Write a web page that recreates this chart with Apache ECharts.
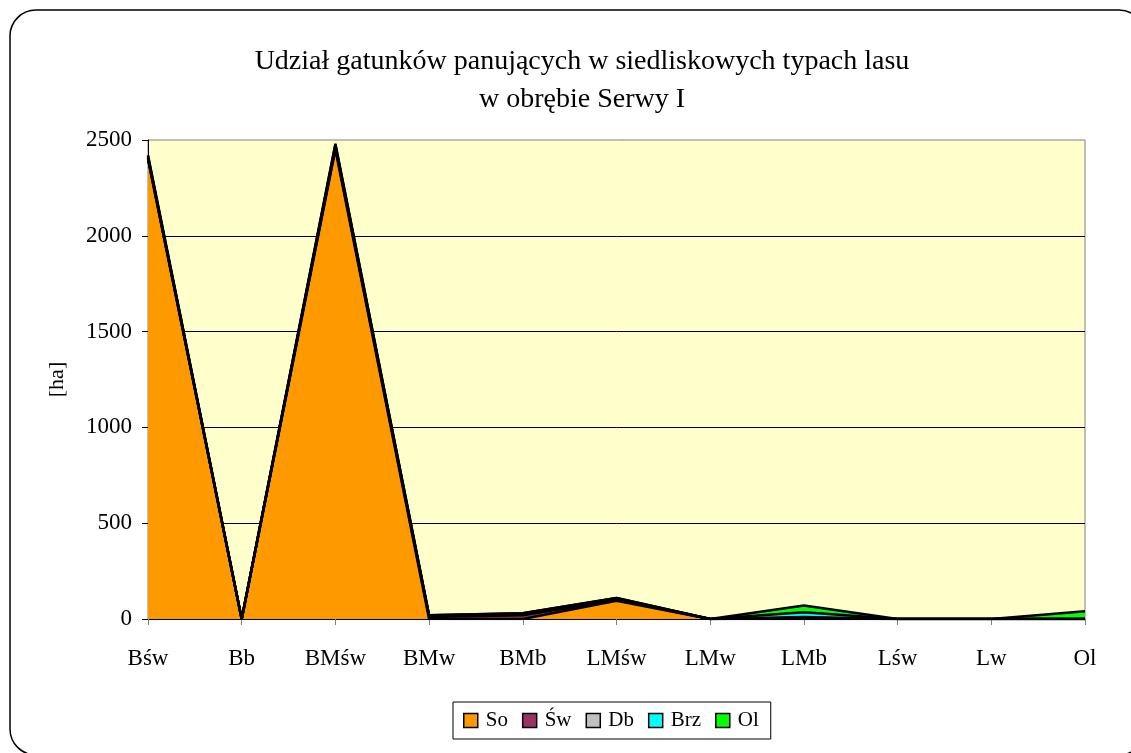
<!DOCTYPE html>
<html>
<head>
<meta charset="utf-8">
<script src="https://cdn.jsdelivr.net/npm/echarts@6/dist/echarts.min.js"></script>
<style>
html, body { margin: 0; padding: 0; background: #fff; }
#chart { width: 1131px; height: 753px; }
</style>
</head>
<body>
<div id="chart"></div>
<script>
// siedliskowe typy lasu
const categories = ["Bśw", "Bb", "BMśw", "BMw", "BMb", "LMśw", "LMw", "LMb", "Lśw", "Lw", "Ol"];
// gatunki panujące [ha]
const seriesNames = ["So", "Św", "Db", "Brz", "Ol"];
const soData  = [2400, 0, 2450, 0, 0, 95, 0, 0, 0, 0, 0];
const swData  = [5, 0, 10, 10, 20, 5, 0, 5, 0, 0, 0];
const dbData  = [0, 0, 5, 5, 5, 5, 0, 5, 0, 0, 0];
const brzData = [10, 0, 10, 5, 5, 5, 0, 25, 0, 0, 0];
const olData  = [5, 0, 5, 0, 0, 0, 0, 35, 0, 0, 40];
const colors = ["#FF9900", "#993366", "#C0C0C0", "#00FFFF", "#00FF00"];

const allData = [soData, swData, dbData, brzData, olData];
const font = "'Liberation Serif', 'Times New Roman', serif";

let myChart = echarts.init(document.getElementById("chart"));
let option = {
  animation: false,
  textStyle: { fontFamily: font },
  title: {
    text: "Udział gatunków panujących w siedliskowych typach lasu\nw obrębie Serwy I",
    left: 577,
    textAlign: "center",
    top: 38,
    textStyle: { fontFamily: font, fontSize: 28, fontWeight: "normal", color: "#000", lineHeight: 38 },
  },
  graphic: [
    {
      type: "rect",
      z: -10,
      shape: { x: 10, y: 10, width: 1135, height: 745, r: 26 },
      style: { fill: "#fff", stroke: "#000", lineWidth: 1.5 },
    },
  ],
  grid: {
    left: 148,
    right: 46,
    top: 140,
    bottom: 134,
    show: true,
    backgroundColor: "#FFFFCC",
    borderColor: "#808080",
    borderWidth: 1,
  },
  legend: {
    data: seriesNames,
    left: 453,
    top: 702,
    icon: "rect",
    itemWidth: 14,
    itemHeight: 14,
    itemGap: 14,
    padding: [8, 12, 8, 10],
    borderColor: "#000",
    borderWidth: 1,
    textStyle: { fontFamily: font, fontSize: 21, color: "#000", padding: [0, 0, 0, 3] },
    itemStyle: { borderColor: "#000", borderWidth: 1.5 },
  },
  xAxis: {
    type: "category",
    data: categories,
    boundaryGap: false,
    axisLine: { lineStyle: { color: "#000", width: 1 } },
    axisTick: { show: true, length: 6, lineStyle: { color: "#808080" } },
    axisLabel: { color: "#000", fontSize: 23, fontFamily: font, margin: 28, interval: 0 },
  },
  yAxis: {
    type: "value",
    min: 0,
    max: 2500,
    interval: 500,
    name: "[ha]",
    nameLocation: "middle",
    nameGap: 80,
    nameTextStyle: { color: "#000", fontSize: 22, fontFamily: font },
    axisLine: { show: true, lineStyle: { color: "#000" } },
    axisTick: { show: true, length: 6, lineStyle: { color: "#000" } },
    axisLabel: { color: "#000", fontSize: 23, fontFamily: font, margin: 16, formatter: (v) => String(v) },
    splitLine: { show: true, showMaxLine: false, lineStyle: { color: "#000", width: 1 } },
  },
  series: seriesNames.map((name, i) => ({
    name: name,
    type: "line",
    stack: "total",
    data: allData[i],
    symbol: "none",
    color: colors[i],
    lineStyle: { color: "#000", width: 2.5 },
    areaStyle: { color: colors[i], opacity: 1 },
    itemStyle: { color: colors[i], borderColor: "#000", borderWidth: 1.5 },
  })),
};
myChart.setOption(option);
</script>
</body>
</html>
